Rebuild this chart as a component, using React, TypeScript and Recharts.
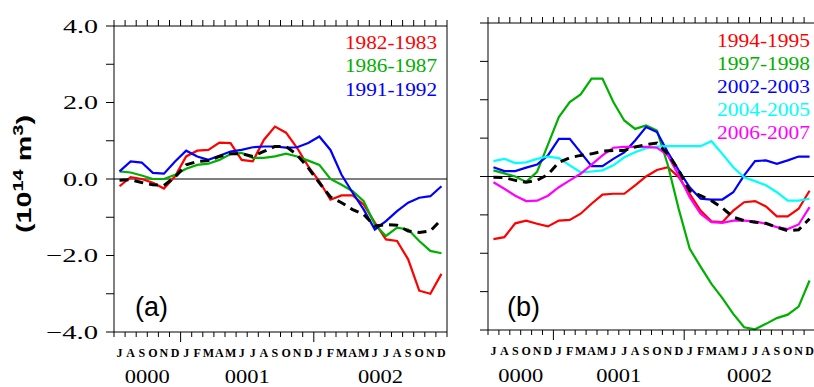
import React from 'react';
import { LineChart, Line, XAxis, YAxis, ReferenceLine } from 'recharts';

const MONTHS = ['J','A','S','O','N','D','J','F','M','A','M','J','J','A','S','O','N','D','J','F','M','A','M','J','J','A','S','O','N','D'];
const YEAR_LABELS = ['0000', '0001', '0002'];
const YEAR_POS = [3, 12, 24];
const Y_TICKS = [-4, -3, -2, -1, 0, 1, 2, 3, 4];

// Panel (a)
const A_1982 = [-0.19, 0.05, 0.0, -0.1, -0.25, 0.07, 0.59, 0.74, 0.76, 0.95, 0.94, 0.5, 0.46, 1.02, 1.37, 1.21, 0.81, 0.33, -0.06, -0.54, -0.43, -0.43, -0.67, -1.14, -1.58, -1.62, -2.1, -2.92, -3.0, -2.48];
const A_1986 = [0.2, 0.17, 0.09, 0.0, 0.0, 0.11, 0.27, 0.37, 0.4, 0.5, 0.65, 0.68, 0.55, 0.55, 0.59, 0.66, 0.59, 0.48, 0.37, 0.0, -0.15, -0.32, -0.58, -1.19, -1.49, -1.27, -1.32, -1.62, -1.88, -1.94];
const A_1991 = [0.2, 0.46, 0.43, 0.16, 0.14, 0.46, 0.74, 0.59, 0.5, 0.61, 0.72, 0.76, 0.83, 0.85, 0.85, 0.82, 0.83, 0.94, 1.11, 0.76, 0.11, -0.36, -0.8, -1.32, -1.1, -0.84, -0.62, -0.49, -0.45, -0.19];
const A_MEAN = [-0.03, -0.02, -0.09, -0.15, -0.17, 0.05, 0.37, 0.46, 0.48, 0.59, 0.66, 0.66, 0.59, 0.72, 0.85, 0.85, 0.63, 0.29, -0.1, -0.47, -0.62, -0.8, -0.93, -1.23, -1.19, -1.21, -1.36, -1.4, -1.36, -1.06];

// Panel (b)
const B_1994 = [-1.63, -1.58, -1.22, -1.15, -1.23, -1.3, -1.15, -1.13, -0.97, -0.71, -0.47, -0.45, -0.45, -0.23, 0.0, 0.17, 0.24, -0.02, -0.45, -0.89, -1.17, -1.19, -0.89, -0.67, -0.64, -0.78, -1.04, -1.04, -0.84, -0.37];
const B_1997 = [0.16, 0.08, 0.0, -0.14, 0.12, 0.83, 1.55, 1.94, 2.14, 2.55, 2.55, 1.94, 1.46, 1.24, 1.33, 1.2, 0.3, -0.85, -1.88, -2.35, -2.8, -3.17, -3.58, -3.93, -3.98, -3.84, -3.69, -3.6, -3.39, -2.71];
const B_2002 = [0.24, 0.14, 0.14, 0.23, 0.31, 0.55, 0.98, 0.98, 0.63, 0.27, 0.27, 0.46, 0.63, 0.94, 1.29, 1.16, 0.63, 0.16, -0.28, -0.58, -0.6, -0.6, -0.41, 0.03, 0.4, 0.42, 0.33, 0.42, 0.52, 0.52];
const B_2004 = [0.4, 0.46, 0.35, 0.37, 0.46, 0.52, 0.48, 0.29, 0.11, 0.13, 0.16, 0.29, 0.5, 0.63, 0.74, 0.78, 0.79, 0.79, 0.79, 0.79, 0.92, 0.59, 0.24, -0.02, -0.12, -0.23, -0.41, -0.63, -0.63, -0.58];
const B_2006 = [-0.15, -0.32, -0.5, -0.64, -0.63, -0.5, -0.28, -0.1, 0.07, 0.31, 0.55, 0.75, 0.77, 0.77, 0.77, 0.75, 0.55, 0.03, -0.54, -0.97, -1.19, -1.21, -1.15, -1.15, -1.17, -1.23, -1.32, -1.37, -1.25, -0.8];
const B_MEAN = [-0.02, -0.03, -0.1, -0.15, -0.1, 0.05, 0.37, 0.49, 0.55, 0.59, 0.66, 0.68, 0.68, 0.77, 0.83, 0.87, 0.59, 0.16, -0.37, -0.5, -0.63, -0.82, -1.06, -1.15, -1.19, -1.22, -1.32, -1.41, -1.39, -1.1];

const RED = '#ff0000';
const GREEN = '#00b000';
const BLUE = '#0000ff';
const CYAN = '#00ffff';
const MAGENTA = '#ff00ff';

const SERIES_A = [
  { key: 'r', name: '1982-1983', color: RED, values: A_1982 },
  { key: 'g', name: '1986-1987', color: GREEN, values: A_1986 },
  { key: 'b', name: '1991-1992', color: BLUE, values: A_1991 },
];
const SERIES_B = [
  { key: 'r', name: '1994-1995', color: RED, values: B_1994 },
  { key: 'g', name: '1997-1998', color: GREEN, values: B_1997 },
  { key: 'b', name: '2002-2003', color: BLUE, values: B_2002 },
  { key: 'c', name: '2004-2005', color: CYAN, values: B_2004 },
  { key: 'm', name: '2006-2007', color: MAGENTA, values: B_2006 },
];

const INT_TICKS = Array.from({ length: 31 }, (_, k) => k);
const HALF_TICKS = Array.from({ length: 61 }, (_, k) => k / 2);

function build(series: { key: string; values: number[] }[], mean: number[]) {
  return MONTHS.map((m, i) => {
    const row: any = { x: i + 0.5, mean: mean[i] };
    series.forEach((s) => { row[s.key] = s.values[i]; });
    return row;
  });
}

const dataA = build(SERIES_A, A_MEAN);
const dataB = build(SERIES_B, B_MEAN);

const NoTick = () => <g />;

const makeBottomTick = (labelDy: number, yearDy: number) => (props: any) => {
  const { x, y, payload } = props;
  const v = payload.value;
  if (Number.isInteger(v)) {
    const major = v === 6 || v === 18;
    const yi = YEAR_POS.indexOf(v);
    return (
      <g>
        <line x1={x} x2={x} y1={y} y2={y + (major ? 10 : 5)} stroke="#000" strokeWidth={1} />
        {yi >= 0 && (
          <text x={x} y={y + yearDy} textAnchor="middle" fontFamily="Liberation Serif" fontSize={18} textLength={45} lengthAdjust="spacingAndGlyphs" fill="#000">
            {YEAR_LABELS[yi]}
          </text>
        )}
      </g>
    );
  }
  const idx = Math.floor(v);
  return (
    <text x={x} y={y + labelDy} textAnchor="middle" fontFamily="Liberation Serif" fontWeight="bold" fontSize={12} fill="#000">
      {MONTHS[idx]}
    </text>
  );
};

const BottomTickA = makeBottomTick(25, 51);
const BottomTickB = makeBottomTick(25, 52);

const LeftTickLabels = (props: any) => {
  const { x, y, payload } = props;
  const v = payload.value;
  if (v % 2 !== 0) return <g />;
  const label = (v < 0 ? '\u2212' : '') + Math.abs(v).toFixed(1);
  return (
    <text x={x} y={y + 6.5} textAnchor="end" fontFamily="Liberation Serif" fontSize={19} textLength={v < 0 ? 52 : 35} lengthAdjust="spacingAndGlyphs" fill="#000">
      {label}
    </text>
  );
};

const axisStyle = { stroke: '#000', strokeWidth: 1 };

function Panel(props: { data: any[]; series: any[]; width: number; height: number; margin: any; leftWidth: number; bottomHeight: number; leftLabels: boolean; bottomTick: any }) {
  const { data, series, width, height, margin, leftWidth, bottomHeight, leftLabels, bottomTick } = props;
  return (
    <LineChart width={width} height={height} data={data} margin={margin}>
      <XAxis xAxisId="top" orientation="top" type="number" dataKey="x" domain={[0, 30]} ticks={INT_TICKS} interval={0} tickSize={6} tick={NoTick} height={6} axisLine={axisStyle} tickLine={axisStyle} />
      <XAxis xAxisId="bot" type="number" dataKey="x" domain={[0, 30]} ticks={HALF_TICKS} interval={0} tickLine={false} tickSize={0} tickMargin={0} tick={bottomTick} height={bottomHeight} axisLine={axisStyle} />
      <YAxis yAxisId="l" type="number" domain={[-4, 4]} ticks={Y_TICKS} interval={0} tickSize={8} tickMargin={8} width={leftWidth} tick={leftLabels ? LeftTickLabels : NoTick} axisLine={axisStyle} tickLine={axisStyle} />
      <YAxis yAxisId="r" orientation="right" type="number" domain={[-4, 4]} ticks={Y_TICKS} interval={0} tickSize={7} width={10} tick={NoTick} axisLine={axisStyle} tickLine={axisStyle} />
      <ReferenceLine xAxisId="bot" yAxisId="l" y={0} stroke="#000" strokeWidth={1.2} />
      {series.map((s) => (
        <Line key={s.key} xAxisId="bot" yAxisId="l" type="linear" dataKey={s.key} stroke={s.color} strokeWidth={2.2} dot={false} isAnimationActive={false} />
      ))}
      <Line xAxisId="bot" yAxisId="l" type="linear" dataKey="mean" stroke="#000" strokeWidth={3} strokeDasharray="9 6" dot={false} isAnimationActive={false} />
    </LineChart>
  );
}

export default function App() {
  return (
    <div style={{ position: 'fixed', left: 0, top: 0, width: 814, height: 387, overflow: 'hidden', background: '#fff' }}>
      <div style={{ position: 'absolute', left: 0, top: 0 }}>
        <Panel data={dataA} series={SERIES_A} width={470} height={387} margin={{ top: 20, right: 13, bottom: 0, left: 0 }} leftWidth={114} bottomHeight={55} leftLabels={true} bottomTick={BottomTickA} />
      </div>
      <div style={{ position: 'absolute', left: 470, top: 0 }}>
        <Panel data={dataB} series={SERIES_B} width={360} height={387} margin={{ top: 17, right: 5, bottom: 0, left: 0 }} leftWidth={18} bottomHeight={57} leftLabels={false} bottomTick={BottomTickB} />
      </div>
      <svg width={814} height={387} style={{ position: 'absolute', left: 0, top: 0, pointerEvents: 'none' }}>
        <text transform="translate(31,174) rotate(-90)" textAnchor="middle" fontFamily="Liberation Sans" fontWeight="bold" fontSize={20} textLength={118} lengthAdjust="spacingAndGlyphs" fill="#000">
          (10<tspan dy={-8} fontSize={14}>14</tspan><tspan dy={8}> m</tspan><tspan dy={-8} fontSize={14}>3</tspan><tspan dy={8}>)</tspan>
        </text>
        {SERIES_A.map((s, i) => (
          <text key={s.key} x={345} y={49 + i * 23.4} fontFamily="Liberation Serif" fontSize={18} textLength={92} lengthAdjust="spacingAndGlyphs" fill={s.color}>{s.name}</text>
        ))}
        {SERIES_B.map((s, i) => (
          <text key={s.key} x={717} y={46.7 + i * 23} fontFamily="Liberation Serif" fontSize={18} textLength={93} lengthAdjust="spacingAndGlyphs" fill={s.color}>{s.name}</text>
        ))}
        <text x={135} y={316} fontFamily="Liberation Sans" fontSize={27} fill="#000">(a)</text>
        <text x={507} y={316} fontFamily="Liberation Sans" fontSize={27} fill="#000">(b)</text>
      </svg>
    </div>
  );
}
